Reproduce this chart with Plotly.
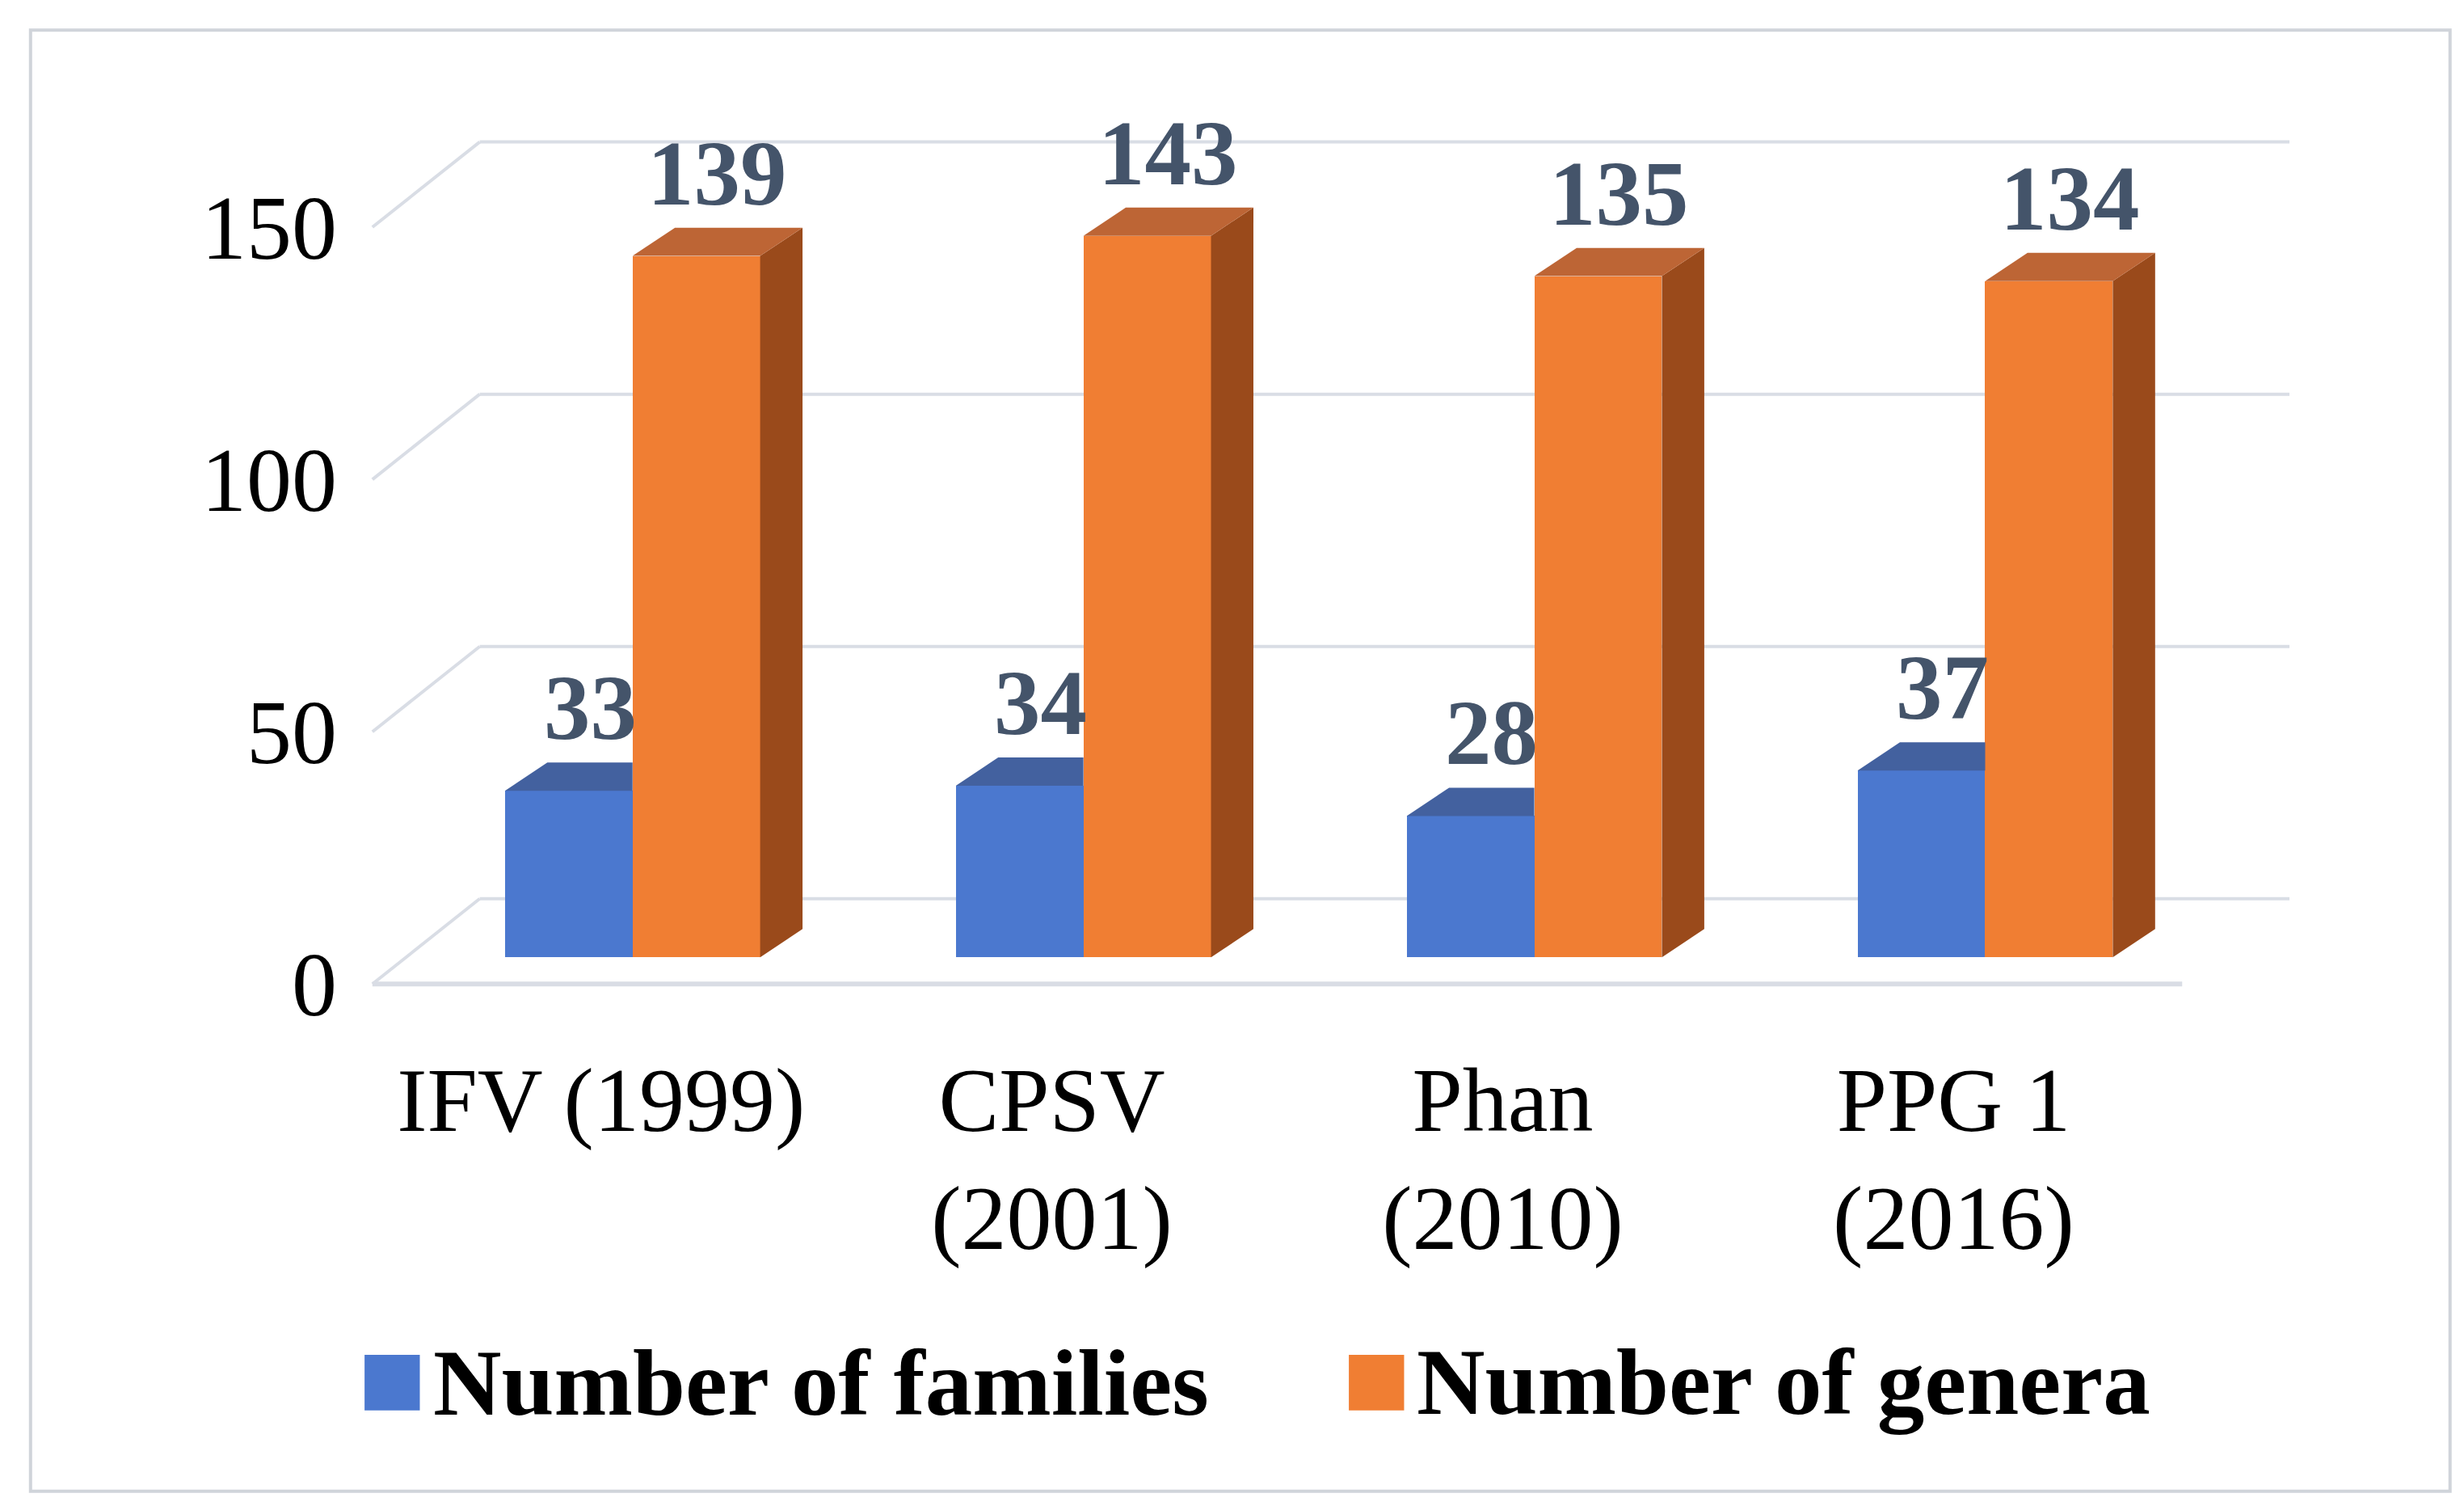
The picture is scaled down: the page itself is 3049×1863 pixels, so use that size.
import plotly.graph_objects as go

categories = ["IFV (1999)", "CPSV<br>(2001)", "Phan<br>(2010)", "PPG 1<br>(2016)"]
families = [33, 34, 28, 37]
genera = [139, 143, 135, 134]
y_ticks = [0, 50, 100, 150]

BAR_W = 0.283      # front face width (category units)
DX, DY = 0.094, 5.6  # bar depth offset
BASE = 5.3         # bars stand in the middle of the floor
FLOOR = 16.9       # back wall offset in value units
BACK_L, BACK_R, FRONT_L, FRONT_R = -0.339, 3.675, -0.577, 3.437

BLUE = dict(front="#4b78cf", side="#2b4f93", top="#43619f")
ORANGE = dict(front="#f07e33", side="#9a4a1b", top="#bd6535")
FONT = "Liberation Serif"

fig = go.Figure()
shapes = []

# back wall gridlines + left diagonals
for v in y_ticks:
    shapes.append(dict(type="line", x0=BACK_L, x1=BACK_R, y0=v + FLOOR, y1=v + FLOOR,
                       line=dict(color="#d9dde5", width=4), layer="below"))
    shapes.append(dict(type="line", x0=FRONT_L, x1=BACK_L, y0=v, y1=v + FLOOR,
                       line=dict(color="#d9dde5", width=4), layer="below"))
shapes.append(dict(type="line", x0=FRONT_L, x1=FRONT_R, y0=0, y1=0,
                   line=dict(color="#d9dde5", width=6), layer="below"))

series = [("Number of families", families, BLUE, -BAR_W / 2),
          ("Number of genera", genera, ORANGE, BAR_W / 2)]
for name, vals, col, off in series:
    xs = [i + off for i in range(len(vals))]
    fig.add_trace(go.Bar(x=xs, y=vals, base=BASE, width=BAR_W, name=name,
                         marker=dict(color=col["front"], line=dict(width=0))))
    hidden_side = col is BLUE  # blue side sits behind the orange bar
    for x, v in zip(xs, vals):
        l, r, t = x - BAR_W / 2, x + BAR_W / 2, v + BASE
        if hidden_side:
            shapes.append(dict(type="path", fillcolor=col["top"], line=dict(width=0),
                               path=f"M{l},{t} L{r},{t} L{r},{t+DY} L{l+DX},{t+DY} Z"))
        else:
            shapes.append(dict(type="path", fillcolor=col["side"], line=dict(width=0),
                               path=f"M{r},{BASE} L{r+DX},{BASE+DY} L{r+DX},{t+DY} L{r},{t} Z"))
            shapes.append(dict(type="path", fillcolor=col["top"], line=dict(width=0),
                               path=f"M{l},{t} L{r},{t} L{r+DX},{t+DY} L{l+DX},{t+DY} Z"))
        fig.add_annotation(x=x + DX / 2, y=t + DY, text=f"<b>{v}</b>", showarrow=False,
                           yanchor="bottom", yshift=2,
                           font=dict(family=FONT, size=115, color="#44546a"))

# legend drawn by hand
for (name, _, col, _), sx, tx in zip(series, [0.0013, 0.509], [0.036, 0.543]):
    shapes.append(dict(type="rect", xref="paper", yref="paper", x0=sx, x1=sx + 0.0285,
                       y0=-0.427 - 0.031, y1=-0.427 + 0.031, fillcolor=col["front"],
                       line=dict(width=0)))
    fig.add_annotation(xref="paper", yref="paper", x=tx, y=-0.427, text=f"<b>{name}</b>",
                       showarrow=False, xanchor="left", yanchor="middle",
                       font=dict(family=FONT, size=117, color="black"))

# outer border
shapes.append(dict(type="rect", xref="paper", yref="paper", x0=-0.171, x1=1.077,
                   y0=-0.548, y1=1.079, line=dict(color="#d0d4da", width=4)))

fig.update_layout(
    width=3049, height=1863, paper_bgcolor="white", plot_bgcolor="white",
    margin=dict(l=440, r=210, t=117, b=635), shapes=shapes, barmode="overlay",
    bargap=0, showlegend=False,
    xaxis=dict(range=[-0.6, 3.7], tickvals=[i - 0.07 for i in range(4)],
               ticktext=categories, showgrid=False, zeroline=False, showline=False,
               ticks="", ticklabelstandoff=50,
               tickfont=dict(family=FONT, size=112, color="black")),
    yaxis=dict(range=[-3, 175], tickvals=y_ticks, showgrid=False, zeroline=False,
               showline=False, ticks="", ticklabelstandoff=30,
               tickfont=dict(family=FONT, size=112, color="black")),
)

fig.write_html("out.html")
